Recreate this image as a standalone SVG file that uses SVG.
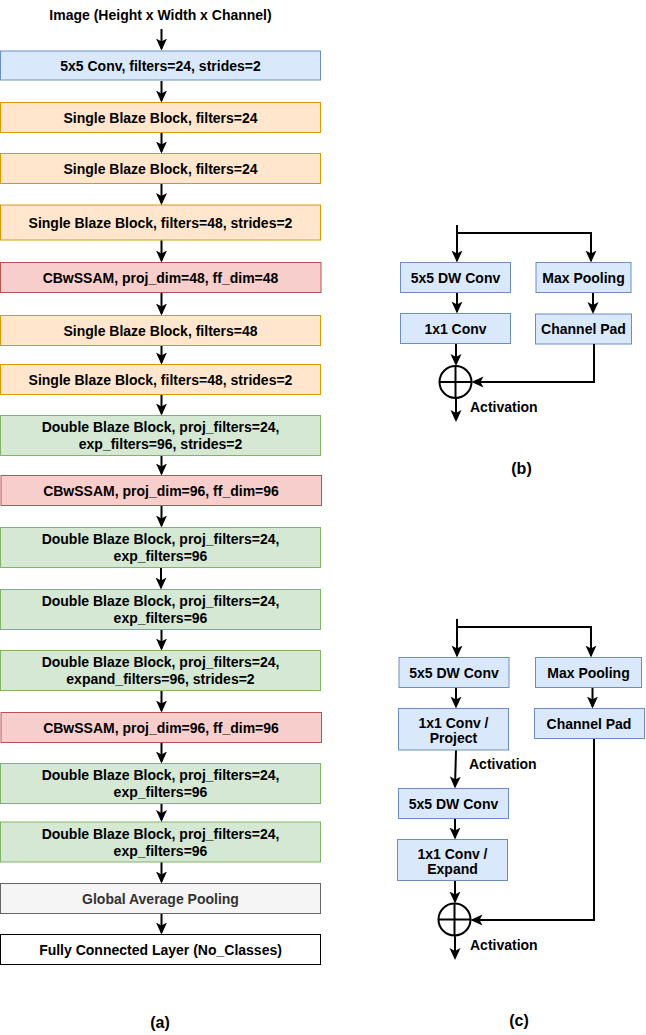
<svg xmlns="http://www.w3.org/2000/svg" width="646" height="1035" viewBox="0 0 646 1035">
<defs>
<style>
text{font-family:"Liberation Sans",Arial,sans-serif;font-weight:bold;font-size:14px;fill:#000;text-anchor:middle}
.lbl{text-anchor:start}
.cap{font-size:16px}
.blue{fill:#dae8fc;stroke:#6c8ebf;stroke-width:1}
.orange{fill:#ffe6cc;stroke:#d79b00;stroke-width:1}
.red{fill:#f8cecc;stroke:#b85450;stroke-width:1}
.green{fill:#d5e8d4;stroke:#82b366;stroke-width:1}
.gray{fill:#f5f5f5;stroke:#666666;stroke-width:1}
.white{fill:#ffffff;stroke:#000000;stroke-width:1}
.gtext{fill:#333333}
.edge{fill:none;stroke:#000;stroke-width:2;marker-end:url(#ah)}
.line{fill:none;stroke:#000;stroke-width:2}
.sum{fill:#fff;stroke:#000;stroke-width:2}
</style>
<marker id="ah" viewBox="0 0 12 12" refX="10" refY="6" markerWidth="12" markerHeight="12" markerUnits="userSpaceOnUse" orient="auto">
<path d="M0,0.5 L12,6 L0,11.5 L3,6 z" fill="#000"/>
</marker>
</defs>
<rect width="646" height="1035" fill="#fff"/>

<g id="title"><text x="160.5" y="20">Image (Height x Width x Channel)</text></g>

<g id="a1"><rect class="blue" x="0.5" y="51" width="320" height="29"/><text x="160.5" y="70.5">5x5 Conv, filters=24, strides=2</text></g>
<g id="a2"><rect class="orange" x="0.5" y="102.5" width="320" height="30"/><text x="160.5" y="122.5">Single Blaze Block, filters=24</text></g>
<g id="a3"><rect class="orange" x="0.5" y="153.5" width="320" height="30"/><text x="160.5" y="173.5">Single Blaze Block, filters=24</text></g>
<g id="a4"><rect class="orange" x="0.5" y="205" width="320" height="35"/><text x="160.5" y="227.5">Single Blaze Block, filters=48, strides=2</text></g>
<g id="a5"><rect class="red" x="0.5" y="262.5" width="320.5" height="30"/><text x="160.5" y="282.5">CBwSSAM, proj_dim=48, ff_dim=48</text></g>
<g id="a6"><rect class="orange" x="0.5" y="315.5" width="320" height="30"/><text x="160.5" y="335.5">Single Blaze Block, filters=48</text></g>
<g id="a7"><rect class="orange" x="0.5" y="364.5" width="320" height="30"/><text x="160.5" y="384.5">Single Blaze Block, filters=48, strides=2</text></g>
<g id="a8"><rect class="green" x="0.5" y="415.5" width="320" height="40"/><text x="160.5" y="432">Double Blaze Block, proj_filters=24,</text><text x="160.5" y="449">exp_filters=96, strides=2</text></g>
<g id="a9"><rect class="red" x="1" y="475.5" width="320.5" height="30"/><text x="161" y="495.5">CBwSSAM, proj_dim=96, ff_dim=96</text></g>
<g id="a10"><rect class="green" x="0.5" y="527.5" width="320" height="40"/><text x="160.5" y="544">Double Blaze Block, proj_filters=24,</text><text x="160.5" y="561">exp_filters=96</text></g>
<g id="a11"><rect class="green" x="0.5" y="589.5" width="320" height="40"/><text x="160.5" y="606">Double Blaze Block, proj_filters=24,</text><text x="160.5" y="623">exp_filters=96</text></g>
<g id="a12"><rect class="green" x="0.5" y="650.5" width="320" height="40"/><text x="160.5" y="667">Double Blaze Block, proj_filters=24,</text><text x="160.5" y="684">expand_filters=96, strides=2</text></g>
<g id="a13"><rect class="red" x="1" y="712.5" width="320.5" height="30"/><text x="161" y="732.5">CBwSSAM, proj_dim=96, ff_dim=96</text></g>
<g id="a14"><rect class="green" x="0.5" y="763.5" width="320" height="40"/><text x="160.5" y="780">Double Blaze Block, proj_filters=24,</text><text x="160.5" y="797">exp_filters=96</text></g>
<g id="a15"><rect class="green" x="0.5" y="822" width="320" height="40"/><text x="160.5" y="838.5">Double Blaze Block, proj_filters=24,</text><text x="160.5" y="855.5">exp_filters=96</text></g>
<g id="a16"><rect class="gray" x="0.5" y="883.5" width="320" height="30"/><text class="gtext" x="160.5" y="903.5">Global Average Pooling</text></g>
<g id="a17"><rect class="white" x="0.5" y="934.5" width="320" height="30"/><text x="160.5" y="954.5">Fully Connected Layer (No_Classes)</text></g>
<g id="capa"><text class="cap" x="160" y="1027.5">(a)</text></g>

<g id="b-dw"><rect class="blue" x="400.5" y="262.5" width="110" height="30"/><text x="455.5" y="282.5">5x5 DW Conv</text></g>
<g id="b-mp"><rect class="blue" x="536" y="262.5" width="95" height="30"/><text x="583.5" y="282.5">Max Pooling</text></g>
<g id="b-1x1"><rect class="blue" x="400.5" y="313.5" width="110" height="30"/><text x="455.5" y="333.5">1x1 Conv</text></g>
<g id="b-cp"><rect class="blue" x="535.5" y="314" width="96" height="30"/><text x="583.5" y="334">Channel Pad</text></g>
<g id="b-sum"><circle class="sum" cx="455.5" cy="382" r="16"/><path class="sum" d="M439.5,382 H471.5 M455.5,366 V398"/></g>
<g id="b-act"><text class="lbl" x="470" y="412">Activation</text></g>
<g id="capb"><text class="cap" x="521.5" y="474">(b)</text></g>

<g id="c-dw1"><rect class="blue" x="399" y="657.5" width="110" height="30"/><text x="454" y="677.5">5x5 DW Conv</text></g>
<g id="c-mp"><rect class="blue" x="535.5" y="657.5" width="106" height="30"/><text x="588.5" y="677.5">Max Pooling</text></g>
<g id="c-proj"><rect class="blue" x="398.5" y="708.5" width="110" height="41.5"/><text x="453.5" y="728">1x1 Conv /</text><text x="453.5" y="743">Project</text></g>
<g id="c-cp"><rect class="blue" x="534.5" y="708.5" width="110" height="30"/><text x="589" y="728.5">Channel Pad</text></g>
<g id="c-act1"><text class="lbl" x="469" y="769">Activation</text></g>
<g id="c-dw2"><rect class="blue" x="398.5" y="788.5" width="110" height="30"/><text x="453.5" y="808.5">5x5 DW Conv</text></g>
<g id="c-exp"><rect class="blue" x="397.5" y="839.5" width="110" height="41"/><text x="452.5" y="858.5">1x1 Conv /</text><text x="452.5" y="873.5">Expand</text></g>
<g id="c-sum"><circle class="sum" cx="454.5" cy="919.5" r="16"/><path class="sum" d="M438.5,919.5 H470.5 M454.5,903.5 V935.5"/></g>
<g id="c-act2"><text class="lbl" x="470" y="950">Activation</text></g>
<g id="capc"><text class="cap" x="519" y="1026">(c)</text></g>

<g id="connectors">
<path class="edge" d="M161.5,29 V48.5"/>
<path class="edge" d="M161.5,81 V100.5"/>
<path class="edge" d="M161.5,133 V151.5"/>
<path class="edge" d="M161.5,184 V203"/>
<path class="edge" d="M161.5,240.5 V260.5"/>
<path class="edge" d="M161.5,293 V313.5"/>
<path class="edge" d="M161.5,346 V362.5"/>
<path class="edge" d="M161.5,395 V413.5"/>
<path class="edge" d="M161.5,456 V473.5"/>
<path class="edge" d="M161.5,506 V525.5"/>
<path class="edge" d="M161,568 V587.5"/>
<path class="edge" d="M161.5,630 V648.5"/>
<path class="edge" d="M161.5,691 V710.5"/>
<path class="edge" d="M161.5,743 V761.5"/>
<path class="edge" d="M161.5,804 V820"/>
<path class="edge" d="M161.5,862.5 V881.5"/>
<path class="edge" d="M161.5,914 V932.5"/>

<path class="edge" d="M457,225 V260.5"/>
<path class="line" d="M457,233 H591 V240"/>
<path class="edge" d="M591,233 V260.5"/>
<path class="edge" d="M457,293 V311.5"/>
<path class="edge" d="M593,293 V312"/>
<path class="edge" d="M456,344 V364"/>
<path class="edge" d="M594,344 V382 H473.5"/>
<path class="edge" d="M456,398 V420"/>

<path class="edge" d="M457,619 V655.5"/>
<path class="line" d="M457,627 H591 V635"/>
<path class="edge" d="M591,627 V655.5"/>
<path class="edge" d="M456,688 V706.5"/>
<path class="edge" d="M592.5,688 V706.5"/>
<path class="edge" d="M456,750.5 L455,786.5"/>
<path class="edge" d="M455,819 V837.5"/>
<path class="edge" d="M455,881 V901.5"/>
<path class="edge" d="M594,739 V920 H472.5"/>
<path class="edge" d="M455,935.5 V958"/>
</g>
</svg>
